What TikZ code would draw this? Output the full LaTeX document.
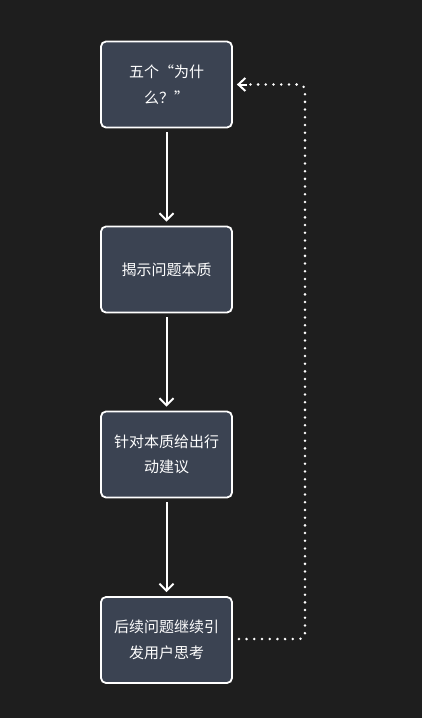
\documentclass[tikz,border=0pt]{standalone}
\usepackage{fontspec}
\newfontfamily\cjk{Noto Sans CJK SC}
\usetikzlibrary{arrows.meta}
\definecolor{bg}{HTML}{1E1E1E}
\definecolor{boxfill}{HTML}{3B4352}
\begin{document}
\begin{tikzpicture}[x=1pt,y=-1pt,
  stepbox/.style={draw=white,line width=1.8pt,fill=boxfill,rounded corners=5pt,
    minimum width=131pt,minimum height=86pt,inner sep=0pt,align=center,
    text=white,font=\cjk\fontsize{15pt}{25.5pt}\selectfont},
  flow/.style={draw=white,line width=2pt,shorten <=4pt,shorten >=4pt,
    -{Straight Barb[length=7pt,width=14pt,line width=2pt]}},
  loop/.style={draw=white,line width=2.8pt,line cap=round,dash pattern=on 0pt off 7.7pt,rounded corners=6pt},
  looptip/.style={-{Straight Barb[length=7pt,width=13pt,line width=2pt]}}]
\fill[bg] (0,0) rectangle (422,718);
\useasboundingbox (0,0) rectangle (422,718);
\node[stepbox] (a) at (166.5,84.5) {五个“为什\\么？”};
\node[stepbox] (b) at (166.5,269.5) {揭示问题本质};
\node[stepbox] (c) at (166.5,454.5) {针对本质给出行\\动建议};
\node[stepbox] (d) at (166.5,640) {后续问题继续引\\发用户思考};
\draw[flow] (a.south) -- (b.north);
\draw[flow] (b.south) -- (c.north);
\draw[flow] (c.south) -- (d.north);
\coordinate (r1) at (305,639);
\coordinate (r2) at (305,84.5);
\draw[loop] ([xshift=6pt]d.east |- r1) -- (r1) -- (r2) -- ([xshift=16pt]a.east);
\draw[draw=white,line width=2pt,looptip] ([xshift=14pt]a.east) -- ([xshift=4pt]a.east);
\end{tikzpicture}
\end{document}
